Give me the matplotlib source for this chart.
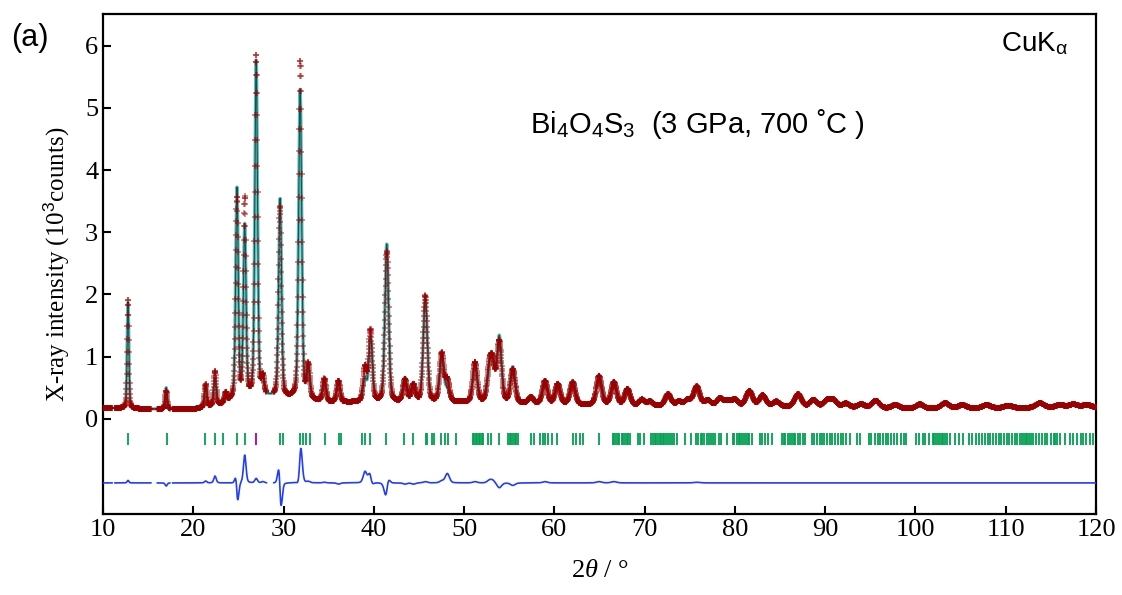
import numpy as np
import matplotlib
matplotlib.use("Agg")
import matplotlib.pyplot as plt

plt.rcParams['font.family'] = ['Liberation Serif', 'DejaVu Serif']
plt.rcParams['mathtext.fontset'] = 'custom'
plt.rcParams['mathtext.rm'] = 'Liberation Sans'
plt.rcParams['mathtext.it'] = 'Liberation Serif:italic'

peak_pos = [12.77, 17.0, 21.37, 22.41, 23.6, 24.84, 25.70, 26.97, 27.7, 29.62, 31.84,
            32.74, 34.52, 36.08, 39.02, 39.65, 41.43, 43.45, 44.38, 45.70, 47.52,
            48.14, 51.21, 52.80, 53.17, 53.90, 55.40, 57.4, 58.96, 60.37, 62.03,
            64.95, 66.6, 68.1, 69.7, 70.6, 72.6, 73.8, 74.8, 75.77, 77.0, 78.35, 79.2, 80.0, 81.6,
            83.08, 84.6, 87.0, 88.7, 90.2, 90.9, 92.3, 94.0, 95.6, 97.8, 100.5, 103.3, 105.2,
            107.9, 110.3, 113.8, 116.0, 117.5, 119.0]
obs_top = [1.92, 0.45, 0.55, 0.76, 0.40, 3.52, 3.52, 5.82, 0.62, 3.40, 5.75,
           0.82, 0.63, 0.60, 0.80, 1.40, 2.68, 0.62, 0.53, 1.97, 1.03,
           0.60, 0.90, 0.74, 0.78, 1.22, 0.78, 0.34, 0.60, 0.55, 0.58,
           0.68, 0.58, 0.47, 0.30, 0.27, 0.39, 0.27, 0.30, 0.51, 0.29, 0.32, 0.27, 0.30, 0.44,
           0.37, 0.27, 0.39, 0.30, 0.28, 0.29, 0.24, 0.23, 0.29, 0.22, 0.23, 0.25, 0.22,
           0.22, 0.21, 0.25, 0.22, 0.23, 0.22]
calc_top = [1.88, 0.50, 0.52, 0.65, 0.40, 3.68, 3.07, 5.75, 0.60, 3.52, 5.28,
            0.80, 0.62, 0.62, 0.62, 1.30, 2.80, 0.64, 0.55, 1.95, 1.00,
            0.45, 0.88, 0.70, 0.74, 1.30, 0.82, 0.34, 0.58, 0.55, 0.58,
            0.66, 0.56, 0.47, 0.30, 0.27, 0.39, 0.27, 0.30, 0.50, 0.29, 0.32, 0.27, 0.30, 0.44,
            0.37, 0.27, 0.39, 0.30, 0.28, 0.29, 0.24, 0.23, 0.29, 0.22, 0.23, 0.25, 0.22,
            0.22, 0.21, 0.25, 0.22, 0.23, 0.22]
# small offset of the observed peak from the calculated one
obs_shift = {24.84: -0.012, 29.62: -0.025, 31.84: 0.01, 41.43: 0.015, 39.65: -0.02}

# background level read at a few angles
bg_pos = [10, 14, 20, 23, 24.5, 28, 31, 35, 40, 50, 60, 70, 80, 90, 100, 110, 120]
bg_val = [0.18, 0.16, 0.15, 0.22, 0.30, 0.35, 0.32, 0.26, 0.26, 0.26, 0.23, 0.20, 0.20, 0.18, 0.16, 0.17, 0.18]

# excluded ranges (no observed points)
gaps = [(11.0, 11.3), (15.3, 16.0), (17.4, 17.7), (28.1, 28.9)]

# Bragg positions
hkl_main = [12.77, 17.05, 21.32, 22.41, 23.27, 24.86, 25.72, 29.6, 29.9,
            31.86, 32.12, 32.51, 32.9, 34.54, 36.09, 36.4, 38.66, 39.0, 39.62, 41.37, 43.39, 44.36,
            45.73, 45.9, 46.5, 46.65, 47.48, 47.86, 48.17, 49.1,
            50.97, 51.1, 51.3, 51.45, 51.6, 51.75, 51.95, 52.14, 52.7, 52.98, 53.88,
            54.9, 55.05, 55.2, 55.4, 55.6, 55.8, 56.0,
            57.37, 57.77, 58.4, 58.7, 59.0, 59.3, 59.7, 60.3,
            62.05, 62.45, 62.8, 63.2, 64.96,
            66.46, 66.6, 66.8, 67.0, 67.2, 67.45, 67.6, 67.8, 68.0, 68.2, 68.4,
            69.3, 69.5, 69.9,
            70.7, 70.9, 71.1, 71.3, 71.5, 71.7, 71.85, 72.0, 72.2, 72.4, 72.6, 72.8, 73.0, 73.3, 73.55,
            74.5, 75.1,
            75.7, 75.95, 76.2, 76.4, 76.6, 76.9, 77.1, 77.3, 77.55, 77.8,
            78.2, 78.5, 79.1,
            79.75, 79.95, 80.2, 80.4, 80.6, 80.8, 81.0, 81.2, 81.4, 81.6, 81.86,
            82.78, 83.0, 83.3, 83.7, 84.07,
            85.2, 85.4, 85.6, 85.85, 86.1, 86.3, 86.5, 86.7, 86.95, 87.2, 87.5, 87.8,
            88.5, 88.8, 89.1, 89.4, 89.6, 89.9, 90.2, 90.5, 90.8, 91.1, 91.4, 91.7, 92.0, 92.3, 92.75,
            93.5, 93.9,
            94.8, 95.1, 95.5, 95.8, 96.1, 96.4, 96.7, 97.0, 97.3, 97.6, 98.0, 98.4, 98.7, 99.0,
            100.1, 100.4, 100.8, 101.1, 101.5, 101.9, 102.1, 102.3, 102.5, 102.7, 102.9, 103.1, 103.3, 103.5, 103.8,
            104.4, 104.8, 105.3,
            105.9, 106.3, 106.7, 107.0, 107.4, 107.7, 108.0, 108.3, 108.6, 108.9, 109.2, 109.5, 109.8,
            110.1, 110.4, 110.7, 111.0, 111.3, 111.6, 111.8, 112.0, 112.2, 112.4, 112.6, 112.8, 113.06,
            113.4, 113.7, 114.0, 114.3, 114.6, 115.0, 115.3, 115.5, 115.7, 116.0,
            116.6,
            117.1, 117.5, 117.9, 118.3, 118.6, 118.9, 119.3, 119.7]
hkl_second = [27.0]

DIFF_OFFSET = -1.03

x = np.arange(10, 120.0001, 0.02)
bg = np.interp(x, bg_pos, bg_val)


def pv(x, pos, amp, eta=0.3):
    """pseudo-Voigt"""
    w = 0.2 + 0.009 * (pos - 10)
    g = np.exp(-4 * np.log(2) * (x - pos) ** 2 / w ** 2)
    l = 1 / (1 + 4 * (x - pos) ** 2 / w ** 2)
    return amp * (eta * l + (1 - eta) * g)


yobs = bg.copy()
ycalc = bg.copy()
for p, ho, hc in zip(peak_pos, obs_top, calc_top):
    b = np.interp(p, bg_pos, bg_val)
    yobs += pv(x, p + obs_shift.get(p, 0.0), ho - b)
    ycalc += pv(x, p, hc - b)

diff = yobs - ycalc + DIFF_OFFSET
mask = np.zeros_like(x, dtype=bool)
for a, b in gaps:
    mask |= (x > a) & (x < b)
yobs_m = np.where(mask, np.nan, yobs)
diff_m = np.where(mask, np.nan, diff)

fig = plt.figure(figsize=(11.22, 5.95), dpi=100)
ax = fig.add_axes([103 / 1122, 1 - 514 / 595, 993 / 1122, 500 / 595])

ax.plot(x, ycalc, color='#3c9f99', lw=2.4, alpha=0.75, zorder=2)
ax.plot(x, ycalc, color='#005a5a', lw=0.8, zorder=2)
ax.plot(x, yobs_m, ls='none', marker='+', ms=5, mew=1.1, color='#9c0000', alpha=0.55, zorder=3)
ax.plot(x, diff_m, color='#1f3cff', lw=1.2, zorder=3)
ax.vlines(hkl_main, -0.42, -0.22, color='#00a050', lw=1.3)
ax.vlines(hkl_second, -0.42, -0.22, color='#9b00d0', lw=1.3)

ax.set_xlim(10, 120)
ax.set_ylim(-1.53, 6.51)
ax.set_xticks(np.arange(10, 121, 10))
ax.set_yticks(range(0, 7))
ax.tick_params(direction='in', length=6, width=1.5, labelsize=19)
for s in ax.spines.values():
    s.set_linewidth(1.6)

ax.set_xlabel(r'2$\it{\theta}$ / °', fontsize=19, labelpad=14)
ax.set_ylabel(r'X-ray intensity (10$^3$counts)', fontsize=18, labelpad=10)

ax.text(0.972, 0.94, r'CuK$_{\mathrm{α}}$', transform=ax.transAxes, ha='right', va='center',
        fontsize=20, family='Liberation Sans')
ax.text(0.43, 0.78, r'Bi$_4$O$_4$S$_3$  (3 GPa, 700 ˚C )', transform=ax.transAxes,
        ha='left', va='center', fontsize=21, family='Liberation Sans')
fig.text(30 / 1122, 1 - 38 / 595, '(a)', ha='center', va='center', fontsize=22, family='Liberation Sans')

fig.savefig('out.png', dpi=100)
